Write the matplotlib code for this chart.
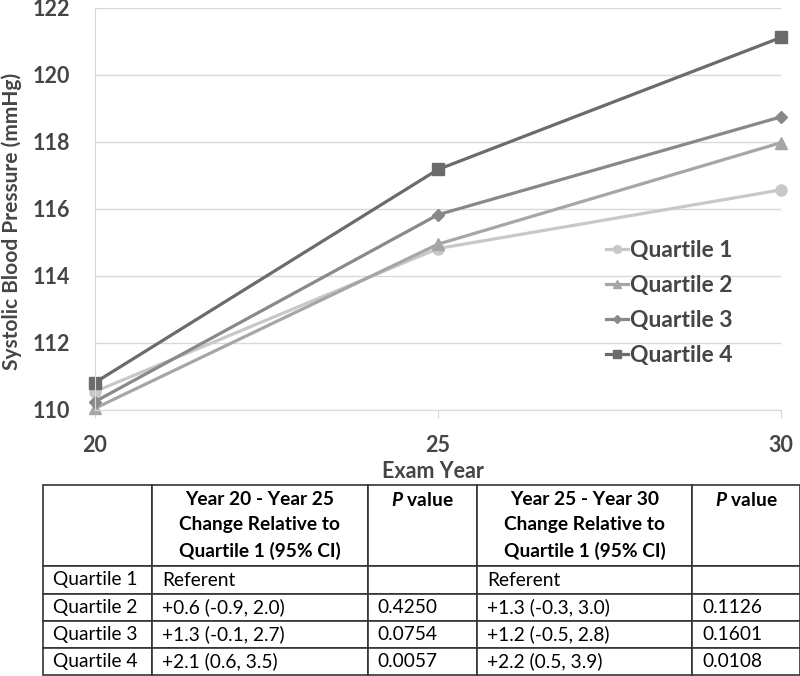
import matplotlib.pyplot as plt
import matplotlib

matplotlib.use('agg')

plt.rcParams['font.family'] = ['Lato', 'DejaVu Sans']
plt.rcParams['mathtext.fontset'] = 'custom'
plt.rcParams['mathtext.it'] = 'Lato:italic:bold'
plt.rcParams['mathtext.rm'] = 'Lato:bold'

# chart data
exam_years = [20, 25, 30]
quartiles = ['Quartile 1', 'Quartile 2', 'Quartile 3', 'Quartile 4']
sbp_q1 = [110.55, 114.82, 116.57]
sbp_q2 = [110.05, 114.95, 117.98]
sbp_q3 = [110.25, 115.83, 118.75]
sbp_q4 = [110.82, 117.18, 121.12]

# table data
col_headers = ['',
               'Year 20 - Year 25\nChange Relative to\nQuartile 1 (95% CI)',
               '$\\mathit{P}$ value\n\n',
               'Year 25 - Year 30\nChange Relative to\nQuartile 1 (95% CI)',
               '$\\mathit{P}$ value\n\n']
change_20_25 = ['Referent', '+0.6 (-0.9, 2.0)', '+1.3 (-0.1, 2.7)', '+2.1 (0.6, 3.5)']
p_20_25 = ['', '0.4250', '0.0754', '0.0057']
change_25_30 = ['Referent', '+1.3 (-0.3, 3.0)', '+1.2 (-0.5, 2.8)', '+2.2 (0.5, 3.9)']
p_25_30 = ['', '0.1126', '0.1601', '0.0108']

colors = ['#c8c8c8', '#a6a6a6', '#898989', '#6b6b6b']
markers = ['o', '^', 'D', 's']
marker_sizes = [8, 8, 6, 8]
text_gray = '#454545'
grid_gray = '#d9d9d9'

fig = plt.figure(figsize=(8, 6.76), dpi=100)
ax = fig.add_axes([95 / 800, 266 / 676, 686 / 800, 402 / 676])

series = [sbp_q1, sbp_q2, sbp_q3, sbp_q4]
for vals, name, c, m, ms in zip(series, quartiles, colors, markers, marker_sizes):
    ax.plot(exam_years, vals, color=c, marker=m, markersize=ms, lw=2.3,
            label=name, clip_on=False)

ax.set_xlim(20, 30)
ax.set_ylim(110, 122)
ax.set_xticks(exam_years)
ax.set_yticks(range(110, 123, 2))
ax.grid(axis='y', color=grid_gray, lw=1)
ax.set_axisbelow(True)
for s in ['top', 'right']:
    ax.spines[s].set_visible(False)
for s in ['left', 'bottom']:
    ax.spines[s].set_color(grid_gray)
ax.tick_params(axis='y', length=0, pad=18, labelsize=15.5, labelcolor=text_gray)
ax.tick_params(axis='x', length=6, color=grid_gray, pad=12, labelsize=15.5,
               labelcolor=text_gray)
for lab in ax.get_xticklabels() + ax.get_yticklabels():
    lab.set_fontweight('bold')

ax.set_xlabel('Exam Year', fontsize=15.5, fontweight='bold', color=text_gray)
ax.xaxis.set_label_coords(0.493, -0.127)
ax.set_ylabel('Systolic Blood Pressure (mmHg)', fontsize=15, fontweight='bold',
              color=text_gray)
ax.yaxis.set_label_coords(-0.107, 0.47)

leg = ax.legend(loc='center left', bbox_to_anchor=(0.745, 0.266), frameon=False,
                prop={'weight': 'bold', 'size': 16.5}, handlelength=0.95,
                handletextpad=0.08, labelspacing=0.62, borderpad=0,
                borderaxespad=0, markerscale=0.7)
for t in leg.get_texts():
    t.set_color(text_gray)

# table
col_px = [109, 216, 110, 215, 108]
tax = fig.add_axes([43 / 800, 1 / 676, 757 / 800, 190 / 676])
tax.axis('off')
rows = [[q, a, b, c, d] for q, a, b, c, d in
        zip(quartiles, change_20_25, p_20_25, change_25_30, p_25_30)]
table = tax.table(cellText=rows, colLabels=col_headers, colWidths=col_px,
                  cellLoc='left', bbox=[0, 0, 1, 1])
table.auto_set_font_size(False)
table.set_fontsize(13.8)
for (r, c), cell in table.get_celld().items():
    cell.set_edgecolor('#333333')
    cell.set_linewidth(1.2)
    cell.PAD = 10 / col_px[c]
    cell.set_height(81 if r == 0 else 27)
    txt = cell.get_text()
    txt.set_color('black')
    if r == 0:
        txt.set_fontweight('bold')
        txt.set_linespacing(1.6)
        if c in (1, 3):
            txt.set_horizontalalignment('center')

fig.savefig('out.png', dpi=100)
